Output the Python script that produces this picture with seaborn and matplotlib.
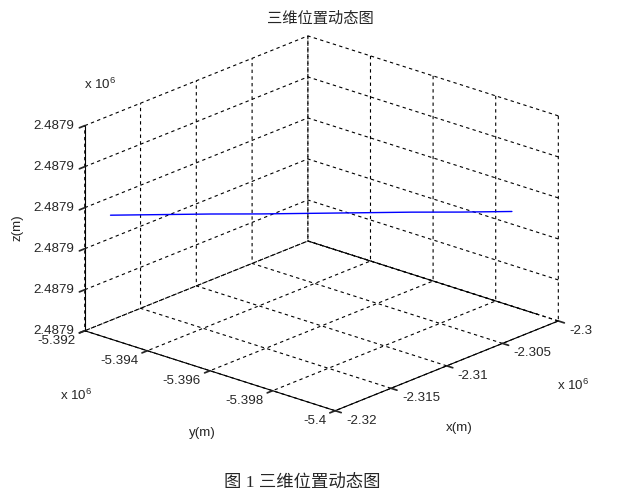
import numpy as np
import seaborn as sns
import matplotlib
matplotlib.use("Agg")
import matplotlib.pyplot as plt
from mpl_toolkits.mplot3d import proj3d

# trajectory (metres)
x_pos = [-2318000, -2316000, -2314000, -2312000, -2310000, -2308000, -2306000, -2304000, -2302000]
y_pos = [-5392110, -5393000, -5393890, -5394780, -5395670, -5396560, -5397450, -5398340, -5399230]
z_pos = [2487921.0, 2487921.1, 2487921.2, 2487921.2, 2487921.3, 2487921.4, 2487921.5, 2487921.5, 2487921.6]

x_ticks = [-2.32, -2.315, -2.31, -2.305, -2.3]
y_ticks = [-5.4, -5.398, -5.396, -5.394, -5.392]
z_ticks = [2.48790, 2.487908, 2.487916, 2.487924, 2.487932, 2.48794]

title = "三维位置动态图"
caption = "图 1 三维位置动态图"

sns.set_theme(style="white")
plt.rcParams["font.family"] = ["Liberation Sans", "Noto Sans CJK SC", "DejaVu Sans"]
plt.rcParams["mathtext.fontset"] = "custom"
plt.rcParams["mathtext.rm"] = "Liberation Sans"
plt.rcParams["grid.linestyle"] = (0, (3, 3))
plt.rcParams["grid.color"] = "black"
plt.rcParams["grid.linewidth"] = 0.8

W, H = 643, 503
fs = 9.6

fig = plt.figure(figsize=(W / 100, H / 100), dpi=100)
ax = fig.add_axes([-0.0093, 0.1016, 1.0, 0.885], projection="3d", proj_type="ortho")

xs = np.array(x_pos) / 1e6
ys = np.array(y_pos) / 1e6
zs = np.array(z_pos) / 1e6
ax.plot(xs, ys, zs, color="blue", lw=1)

ax.set_xlim(x_ticks[0], x_ticks[-1])
ax.set_ylim(y_ticks[0], y_ticks[-1])
ax.set_zlim(z_ticks[0], z_ticks[-1])
ax.set_xticks(x_ticks)
ax.set_yticks(y_ticks)
ax.set_zticks(z_ticks)

# solid floor edge at the back (x = max)
ax.plot([x_ticks[-1], x_ticks[-1]], [y_ticks[0], y_ticks[-1]], [z_ticks[0], z_ticks[0]], color="black", lw=0.8)

ax.set_box_aspect((1, 1, 0.655), zoom=1.14)
ax.view_init(elev=21, azim=-138.3)

for axis in (ax.xaxis, ax.yaxis, ax.zaxis):
    axis.set_pane_color((1, 1, 1, 0))
    axis.pane.set_edgecolor("none")
    axis.line.set_color("black")
    axis.line.set_linewidth(0.8)
    axis.set_tick_params(labelbottom=False, labeltop=False)
    axis._axinfo["tick"]["inward_factor"] = 0.3
    axis._axinfo["tick"]["outward_factor"] = 0.0

fig.canvas.draw()
px = matplotlib.transforms.IdentityTransform()


def to_px(x, y, z):
    xp, yp, _ = proj3d.proj_transform(x, y, z, ax.get_proj())
    return ax.transData.transform((xp, yp))


# tick labels, placed like MATLAB does (pixel offsets from each tick)
for v in x_ticks:
    p = to_px(v, y_ticks[0], z_ticks[0])
    fig.text(p[0] + 11, p[1] - 10, f"{v:g}", transform=px, ha="left", va="center", fontsize=fs)
for v in y_ticks:
    p = to_px(x_ticks[0], v, z_ticks[0])
    fig.text(p[0] - 9, p[1] - 10, f"{v:g}", transform=px, ha="right", va="center", fontsize=fs)
for v in z_ticks:
    p = to_px(x_ticks[0], y_ticks[-1], v)
    fig.text(p[0] - 11, p[1], f"{v:.4f}", transform=px, ha="right", va="center", fontsize=fs)

# axis labels and exponent notes
fig.text(459 / W, 1 - 428 / H, "x(m)", ha="center", va="center", fontsize=fs)
fig.text(202 / W, 1 - 433 / H, "y(m)", ha="center", va="center", fontsize=fs)
fig.text(17 / W, 1 - 228 / H, "z(m)", ha="center", va="center", fontsize=fs, rotation=90)
fig.text(573 / W, 1 - 385 / H, r"x 10$^6$", ha="center", va="center", fontsize=fs)
fig.text(76 / W, 1 - 395 / H, r"x 10$^6$", ha="center", va="center", fontsize=fs)
fig.text(100 / W, 1 - 84 / H, r"x 10$^6$", ha="center", va="center", fontsize=fs)

fig.text(320 / W, 1 - 19 / H, title, ha="center", va="center", fontsize=11)
fig.text(302.5 / W, 1 - 483 / H, caption, ha="center", va="center", fontsize=12.5,
         family=["Liberation Serif", "Noto Sans CJK SC"])

fig.savefig("out.png", dpi=100)
